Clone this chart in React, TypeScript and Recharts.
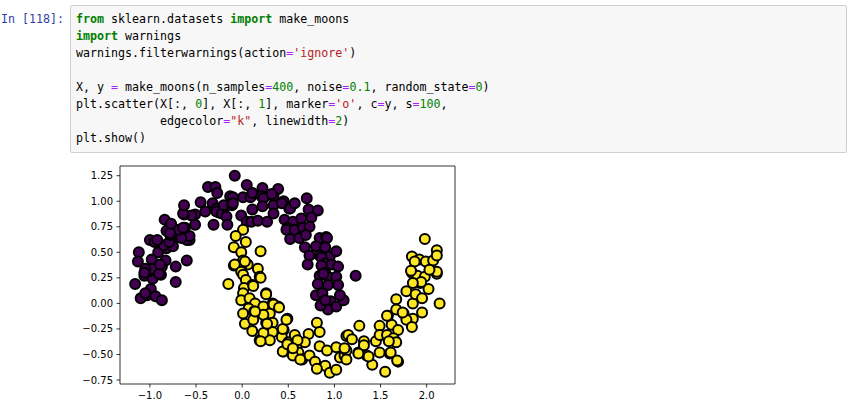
import React from 'react';
import { ScatterChart, Scatter, XAxis, YAxis, ReferenceLine } from 'recharts';

// make_moons points, [x, y]
const CLASS0: [number, number][] = [
  [-1.16, 0.19], [-1.10, 0.05], [-1.06, 0.27], [-1.03, 0.08], [-0.99, 0.14], [-0.97, 0.24],
  [-0.94, 0.07], [-0.88, 0.28], [-0.87, 0.03], [-0.72, 0.21], [-0.99, 0.32], [-1.05, 0.10],
  [-1.12, 0.50], [-0.91, 0.50], [-0.98, 0.43], [-0.83, 0.42], [-1.13, 0.41], [-0.60, 0.42],
  [-0.72, 0.36], [-0.98, 0.34], [-0.87, 0.36], [-1.05, 0.34], [-1.06, 0.30], [-0.90, 0.29],
  [-0.89, 0.38], [-0.82, 0.54], [-0.85, 0.57], [-0.75, 0.56], [-1.00, 0.62], [-0.95, 0.60],
  [-0.92, 0.62], [-0.79, 0.60], [-0.78, 0.67], [-0.68, 0.65], [-0.57, 0.62], [-0.60, 0.62],
  [-0.57, 0.66], [-0.66, 0.64], [-0.69, 0.72], [-0.62, 0.74], [-0.82, 0.71], [-0.78, 0.69],
  [-0.84, 0.82], [-0.77, 0.78], [-0.64, 0.74], [-0.51, 0.77], [-0.51, 0.87], [-0.55, 0.86],
  [-0.63, 0.87], [-0.64, 0.88], [-0.63, 0.96], [-0.45, 0.99], [-0.40, 0.90], [-0.32, 0.98],
  [-0.28, 0.93], [-0.25, 0.89], [-0.28, 0.90], [-0.22, 0.88], [-0.17, 0.85], [-0.18, 0.95],
  [-0.20, 0.96], [-0.11, 0.96], [-0.31, 0.77], [-0.16, 0.77], [-0.37, 1.14], [-0.29, 1.14],
  [-0.27, 1.08], [-0.08, 1.25], [-0.13, 1.05], [-0.10, 1.04], [-0.10, 0.98], [0.05, 1.16],
  [0.01, 1.04], [0.09, 1.04], [0.11, 1.08], [0.22, 1.13], [0.21, 1.05], [0.23, 1.03],
  [0.39, 1.12], [0.34, 1.05], [0.32, 1.07], [0.45, 1.00], [0.11, 0.92], [0.22, 0.95],
  [0.34, 0.96], [0.43, 0.98], [0.51, 0.93], [0.52, 0.93], [0.57, 0.98], [0.70, 1.03],
  [0.72, 0.92], [0.82, 0.91], [-0.01, 0.86], [0.05, 0.80], [0.10, 0.80], [0.17, 0.81],
  [0.27, 0.80], [0.34, 0.88], [0.46, 0.82], [0.55, 0.80], [0.64, 0.83], [0.75, 0.84],
  [0.49, 0.74], [0.48, 0.72], [0.57, 0.72], [0.66, 0.74], [0.73, 0.75], [0.52, 0.63],
  [0.62, 0.64], [0.69, 0.67], [0.84, 0.64], [0.91, 0.65], [0.92, 0.64], [0.68, 0.55],
  [0.80, 0.56], [0.90, 0.55], [0.73, 0.47], [0.84, 0.47], [0.95, 0.46], [1.02, 0.51],
  [0.86, 0.45], [0.71, 0.38], [0.90, 0.39], [0.97, 0.38], [1.04, 0.36], [0.86, 0.37],
  [0.90, 0.30], [0.84, 0.27], [0.93, 0.26], [1.02, 0.26], [1.23, 0.27], [0.82, 0.19],
  [0.93, 0.18], [1.04, 0.18], [0.80, 0.08], [0.87, 0.10], [0.96, 0.02], [0.93, -0.06],
  [0.85, -0.02], [1.02, -0.03], [1.10, 0.03], [1.06, 0.08], [0.90, 0.03], [0.88, 0.29],
];

const CLASS1: [number, number][] = [
  [0.01, 0.72], [-0.07, 0.66], [0.04, 0.60], [-0.09, 0.55], [-0.01, 0.50], [0.20, 0.51],
  [0.01, 0.42], [0.06, 0.38], [0.17, 0.34], [-0.09, 0.37], [-0.01, 0.34], [0.03, 0.41],
  [-0.08, 0.38], [-0.01, 0.31], [0.01, 0.28], [0.19, 0.26], [0.04, 0.23], [0.11, 0.18],
  [-0.15, 0.19], [0.02, 0.15], [0.01, 0.10], [0.26, 0.10], [-0.01, 0.03], [0.08, 0.05],
  [0.14, 0.00], [0.07, -0.05], [0.13, -0.08], [0.23, -0.03], [0.33, 0.00], [0.39, -0.03],
  [0.30, -0.10], [0.03, -0.20], [0.12, -0.16], [0.11, -0.27], [0.26, -0.19], [0.33, -0.19],
  [0.49, -0.15], [0.33, -0.28], [0.45, -0.26], [0.19, -0.36], [0.30, -0.36], [0.43, -0.33],
  [0.58, -0.34], [0.50, -0.38], [0.45, -0.47], [0.59, -0.42], [0.72, -0.30], [0.81, -0.19],
  [0.84, -0.28], [0.68, -0.38], [0.61, -0.48], [0.65, -0.55], [0.73, -0.51], [0.79, -0.57],
  [0.84, -0.42], [0.92, -0.46], [0.90, -0.61], [0.95, -0.68], [1.02, -0.65], [1.02, -0.43],
  [1.06, -0.53], [1.11, -0.51], [1.13, -0.32], [0.55, -0.51], [0.23, -0.11], [0.23, -0.29],
  [0.12, 0.17], [0.20, 0.25], [0.26, 0.09], [0.14, -0.08], [0.01, -0.10], [0.34, -0.01],
  [0.40, -0.04], [0.20, -0.37], [0.27, -0.20], [0.44, -0.25], [0.48, -0.16], [0.44, -0.47],
  [0.49, -0.40], [0.57, -0.31], [0.60, -0.36], [0.55, -0.44], [0.63, -0.55], [0.81, -0.64],
  [1.15, -0.31], [1.19, -0.35], [1.27, -0.22], [1.13, -0.46], [1.13, -0.55], [1.26, -0.48],
  [1.32, -0.37], [1.35, -0.51], [1.41, -0.60], [1.49, -0.48], [1.45, -0.37], [1.55, -0.67],
  [1.60, -0.49], [1.69, -0.57], [1.66, -0.37], [1.58, -0.34], [1.49, -0.22], [1.62, -0.21],
  [1.58, -0.12], [1.69, -0.26], [1.67, 0.04], [1.75, -0.10], [1.85, -0.15], [1.85, 0.00],
  [1.78, 0.12], [1.88, 0.09], [1.95, -0.09], [1.93, 0.20], [2.02, 0.14], [2.14, 0.00],
  [2.11, 0.29], [1.84, 0.30], [1.90, 0.27], [1.98, 0.26], [1.94, 0.21], [1.95, 0.05],
  [1.67, -0.06], [1.78, -0.16], [1.84, -0.23], [1.49, -0.31], [1.57, -0.31], [1.64, -0.34],
  [1.67, -0.38], [1.59, -0.37], [1.11, -0.44], [1.37, -0.52], [1.61, -0.48], [1.68, -0.56],
  [1.85, 0.20], [1.98, 0.63], [2.11, 0.52], [1.84, 0.46], [1.92, 0.43], [1.99, 0.41],
  [2.07, 0.42], [2.11, 0.47], [1.87, 0.41], [1.83, 0.32], [2.11, 0.31], [2.03, 0.33],
  [1.74, -0.09], [1.57, -0.12], [1.32, -0.41], [1.26, -0.49],
];

const X_TICKS = [-1.0, -0.5, 0.0, 0.5, 1.0, 1.5, 2.0];
const Y_TICKS = [-0.75, -0.5, -0.25, 0.0, 0.25, 0.5, 0.75, 1.0, 1.25];
const X_DOMAIN: [number, number] = [-1.324, 2.307];
const Y_DOMAIN: [number, number] = [-0.789, 1.345];

const PURPLE = '#440154';
const YELLOW = '#fde725';

const fmt = (v: number, d: number) => v.toFixed(d).replace('-', '\u2212');

const dot = (fill: string) => (p: any) => (
  <circle cx={p.cx} cy={p.cy} r={5} fill={fill} stroke="#000" strokeWidth={2} />
);

// code cell tokens: [text, kind]
type Tok = [string, string?];
const CODE: Tok[][] = [
  [['from', 'kw'], [' sklearn.datasets '], ['import', 'kw'], [' make_moons']],
  [['import', 'kw'], [' warnings']],
  [['warnings.filterwarnings(action'], ['=', 'op'], ["'ignore'", 'str'], [')']],
  [],
  [['X, y '], ['=', 'op'], [' make_moons(n_samples'], ['=', 'op'], ['400', 'num'], [', noise'], ['=', 'op'],
    ['0.1', 'num'], [', random_state'], ['=', 'op'], ['0', 'num'], [')']],
  [['plt.scatter(X[:, '], ['0', 'num'], ['], X[:, '], ['1', 'num'], ['], marker'], ['=', 'op'], ["'o'", 'str'],
    [', c'], ['=', 'op'], ['y, s'], ['=', 'op'], ['100', 'num'], [',']],
  [['            edgecolor'], ['=', 'op'], ['"k"', 'str'], [', linewidth'], ['=', 'op'], ['2', 'num'], [')']],
  [['plt.show()']],
];

const tokStyle: Record<string, React.CSSProperties> = {
  kw: { color: '#008000', fontWeight: 'bold' },
  op: { color: '#AA22FF' },
  str: { color: '#BA2121' },
  num: { color: '#008000' },
};

const mono = '"DejaVu Sans Mono", "Liberation Mono", monospace';

export default function App() {
  const d0 = CLASS0.map(([x, y]) => ({ x, y }));
  const d1 = CLASS1.map(([x, y]) => ({ x, y }));
  const tick = { fontSize: 10, fill: '#000', fontFamily: '"DejaVu Sans", sans-serif' };
  const spine = { stroke: '#000', strokeWidth: 0.8 };

  return (
    <div style={{ position: 'absolute', left: 0, top: 0, width: 853, height: 402, background: '#fff', overflow: 'hidden' }}>
      <div style={{ position: 'absolute', left: 0, width: 64, top: 11, textAlign: 'right', fontFamily: mono, fontSize: 11.65, lineHeight: '17px', color: '#303F9F' }}>
        In [118]:
      </div>
      <div style={{ position: 'absolute', left: 70, top: 5, width: 775, height: 146, background: '#f7f7f7', border: '1px solid #cfcfcf', borderRadius: 2 }} />
      <pre style={{ position: 'absolute', left: 76, top: 11, margin: 0, fontFamily: mono, fontSize: 11.65, lineHeight: '17px', color: '#000' }}>
        {CODE.map((line, i) => (
          <div key={i} style={{ height: 17 }}>
            {line.map(([t, k], j) => (
              <span key={j} style={k ? tokStyle[k] : undefined}>{t}</span>
            ))}
          </div>
        ))}
      </pre>
      <div style={{ position: 'absolute', left: 70, top: 158 }}>
        <ScatterChart width={395} height={244} margin={{ top: 8, right: 10, bottom: 0, left: 0 }}>
          <XAxis
            dataKey="x" type="number" domain={X_DOMAIN} ticks={X_TICKS} allowDataOverflow
            tickFormatter={(v: number) => fmt(v, 1)} tick={tick} tickSize={3.5} tickMargin={4}
            axisLine={spine} tickLine={spine} height={18} interval={0}
          />
          <YAxis
            dataKey="y" type="number" domain={Y_DOMAIN} ticks={Y_TICKS} allowDataOverflow
            tickFormatter={(v: number) => fmt(v, 2)} tick={tick} tickSize={3.5} tickMargin={3.5}
            axisLine={spine} tickLine={spine} width={50} interval={0}
          />
          <ReferenceLine y={Y_DOMAIN[1]} stroke="#000" strokeWidth={0.8} ifOverflow="extendDomain" />
          <ReferenceLine x={X_DOMAIN[1]} stroke="#000" strokeWidth={0.8} ifOverflow="extendDomain" />
          <Scatter data={d0} shape={dot(PURPLE)} isAnimationActive={false} />
          <Scatter data={d1} shape={dot(YELLOW)} isAnimationActive={false} />
        </ScatterChart>
      </div>
    </div>
  );
}
